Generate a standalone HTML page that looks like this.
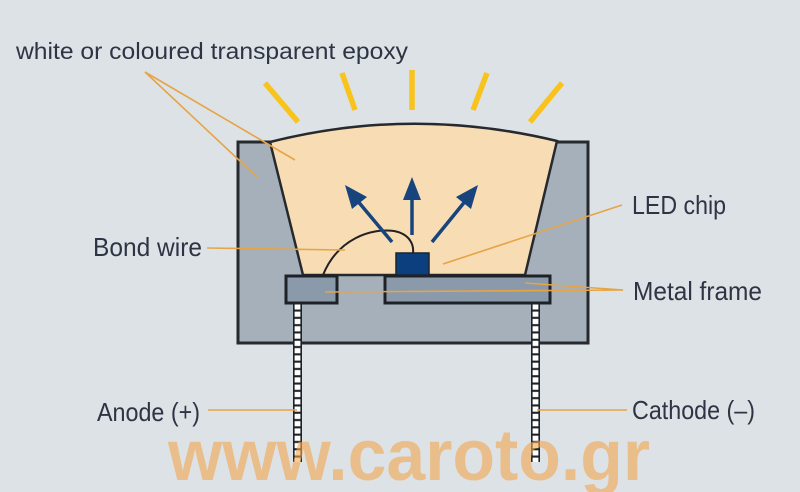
<!DOCTYPE html>
<html>
<head>
<meta charset="utf-8">
<style>
html,body{margin:0;padding:0;background:#dde2e6;}
svg{display:block;}
text{font-family:"Liberation Sans",sans-serif;}
</style>
</head>
<body>
<svg width="800" height="492" viewBox="0 0 800 492" xmlns="http://www.w3.org/2000/svg">
<defs>
<pattern id="pinL" x="293" y="303" width="9" height="7.3" patternUnits="userSpaceOnUse">
<rect x="0" y="0" width="9" height="7.3" fill="#1e2226"/>
<rect x="1.6" y="1.3" width="5.8" height="5.2" fill="#ffffff"/>
</pattern>
<pattern id="pinR" x="531" y="303" width="9" height="7.3" patternUnits="userSpaceOnUse">
<rect x="0" y="0" width="9" height="7.3" fill="#1e2226"/>
<rect x="1.6" y="1.3" width="5.8" height="5.2" fill="#ffffff"/>
</pattern>
</defs>
<rect x="0" y="0" width="800" height="492" fill="#dde2e6"/>

<!-- yellow rays -->
<g stroke="#f8c31c" stroke-width="5.5" stroke-linecap="butt">
<line x1="265" y1="83" x2="298" y2="122"/>
<line x1="342" y1="73" x2="355" y2="110"/>
<line x1="412" y1="70" x2="412" y2="110"/>
<line x1="487" y1="73" x2="473" y2="110"/>
<line x1="562" y1="83" x2="530" y2="122"/>
</g>

<!-- housing -->
<rect x="238" y="142" width="350" height="201" fill="#a5b0ba" stroke="#26292d" stroke-width="3"/>

<!-- epoxy -->
<path d="M270,142 Q412,106 557,141 L525,275 L303,275 Z" fill="#f8dcb3" stroke="#26292d" stroke-width="2.5" stroke-linejoin="miter"/>

<!-- pins -->
<rect x="293" y="303" width="9" height="159" fill="url(#pinL)"/>
<rect x="531" y="303" width="9" height="159" fill="url(#pinR)"/>

<!-- pads (metal frame) -->
<rect x="286" y="276" width="51" height="27" fill="#8a9aab" stroke="#1e2226" stroke-width="3"/>
<rect x="385" y="276" width="165" height="27" fill="#8a9aab" stroke="#1e2226" stroke-width="3"/>

<!-- chip -->
<rect x="396" y="253" width="33" height="22" fill="#0c3f7e" stroke="#1a2430" stroke-width="1.5"/>

<!-- bond wire -->
<path d="M323,275 C338,238 372,228 394,231 C410,234 414,245 413,253" fill="none" stroke="#222" stroke-width="2"/>

<!-- blue arrows -->
<g stroke="#17447d" stroke-width="3.5" fill="#17447d">
<line x1="392" y1="242" x2="356" y2="199"/>
<line x1="412" y1="235" x2="412" y2="195"/>
<line x1="432" y1="242" x2="467" y2="199"/>
</g>
<g fill="#17447d">
<polygon points="345,185 367,197 352,209"/>
<polygon points="412,177 421,200 403,200"/>
<polygon points="478,185 471,209 456,197"/>
</g>

<!-- leader lines -->
<g stroke="#e6a446" stroke-width="1.6" fill="none">
<line x1="145" y1="72" x2="295" y2="160"/>
<line x1="145" y1="72" x2="257" y2="177"/>
<line x1="207" y1="248" x2="345" y2="250"/>
<line x1="622" y1="205" x2="443" y2="264"/>
<line x1="325" y1="292" x2="623" y2="290"/>
<line x1="525" y1="283" x2="623" y2="290"/>
<line x1="208" y1="410" x2="297" y2="410"/>
<line x1="537" y1="410" x2="627" y2="410"/>
</g>

<!-- labels -->
<g fill="#2e3444">
<text x="16" y="59" font-size="23" textLength="392" lengthAdjust="spacingAndGlyphs">white or coloured transparent epoxy</text>
<text x="93" y="256" font-size="26" textLength="109" lengthAdjust="spacingAndGlyphs">Bond wire</text>
<text x="632" y="214" font-size="26" textLength="94" lengthAdjust="spacingAndGlyphs">LED chip</text>
<text x="633" y="300" font-size="26" textLength="129" lengthAdjust="spacingAndGlyphs">Metal frame</text>
<text x="97" y="421" font-size="26" textLength="103" lengthAdjust="spacingAndGlyphs">Anode (+)</text>
<text x="632" y="419" font-size="26" textLength="123" lengthAdjust="spacingAndGlyphs">Cathode (–)</text>
</g>

<!-- watermark -->
<text x="168" y="480" font-size="72" font-weight="bold" fill="#f4a64c" fill-opacity="0.6" textLength="482" lengthAdjust="spacingAndGlyphs">www.caroto.gr</text>
</svg>
</body>
</html>
